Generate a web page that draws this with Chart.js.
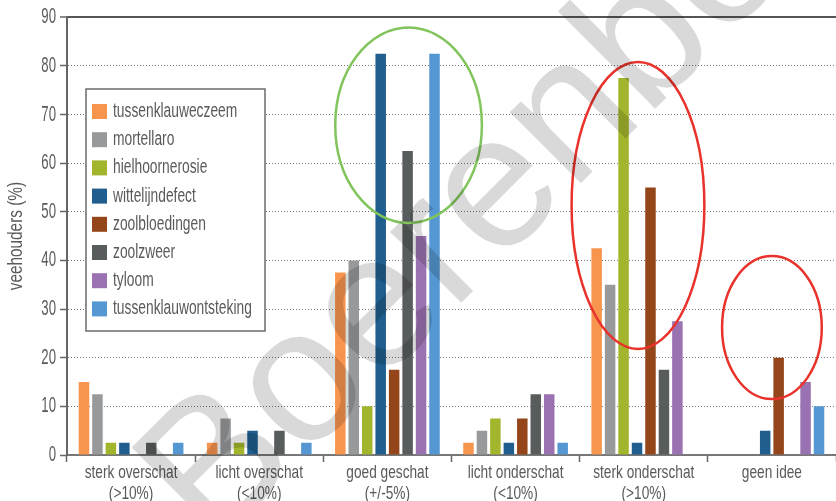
<!DOCTYPE html>
<html>
<head>
<meta charset="utf-8">
<script src="https://cdn.jsdelivr.net/npm/chart.js@4.4.1/dist/chart.umd.min.js"></script>
<style>
  html, body { margin: 0; padding: 0; background: #ffffff; }
  #wrap { width: 836px; height: 501px; position: relative; }
</style>
</head>
<body>
<div id="wrap"><canvas id="c" width="836" height="501"></canvas></div>
<script>
// ---- data ----
const categories = [
  ["sterk overschat", "(>10%)"],
  ["licht overschat", "(<10%)"],
  ["goed geschat", "(+/-5%)"],
  ["licht onderschat", "(<10%)"],
  ["sterk onderschat", "(>10%)"],
  "geen idee"
];
const seriesNames = ["tussenklauweczeem", "mortellaro", "hielhoornerosie", "wittelijndefect",
                     "zoolbloedingen", "zoolzweer", "tyloom", "tussenklauwontsteking"];
const tussenklauweczeem     = [15, 2.5, 37.5, 2.5, 42.5, 0];
const mortellaro            = [12.5, 7.5, 40, 5, 35, 0];
const hielhoornerosie       = [2.5, 2.5, 10, 7.5, 77.5, 0];
const wittelijndefect       = [2.5, 5, 82.5, 2.5, 2.5, 5];
const zoolbloedingen        = [0, 0, 17.5, 7.5, 55, 20];
const zoolzweer             = [2.5, 5, 62.5, 12.5, 17.5, 0];
const tyloom                = [0, 0, 45, 12.5, 27.5, 15];
const tussenklauwontsteking = [2.5, 2.5, 82.5, 2.5, 0, 10];
const yTicks = [0, 10, 20, 30, 40, 50, 60, 70, 80, 90];
const yTitle = "veehouders (%)";
const watermarkText = "Boerenbond";
// highlight ellipses (x in category index units, y in value units)
const ellipseCenterX = [2.165, 3.955, 5.0];
const ellipseCenterY = [67.8, 51.3, 26.2];
const ellipseRadiusX = [0.572, 0.518, 0.389];
const ellipseRadiusY = [20.1, 29.5, 14.7];
const ellipseColors  = ["#82c45c", "#e8322b", "#e8322b"];

const colors = ["#f7954f", "#97999a", "#a3b52c", "#1f5e8e", "#94461a", "#595c5d", "#9a72b2", "#5597d2"];
const seriesValues = [tussenklauweczeem, mortellaro, hielhoornerosie, wittelijndefect,
                      zoolbloedingen, zoolzweer, tyloom, tussenklauwontsteking];

const FONT = "'Liberation Sans', Arial, sans-serif";
const TXT = "#5a5a5a";

// condensed text rendering (the original uses a condensed typeface)
const canvas = document.getElementById('c');
const g = canvas.getContext('2d');
const proto = CanvasRenderingContext2D.prototype;
const condenseBySize = { 22: 0.6, 21: 0.73, 20: 0.69, 19: 0.72 };
function sxFor(c) {
  if (c._plain) return 1;
  const m = /(\d+(?:\.\d+)?)px/.exec(c.font);
  const s = m ? Math.round(parseFloat(m[1])) : 0;
  return condenseBySize[s] || 0.72;
}
g.fillText = function (t, x, y) {
  const sx = sxFor(this);
  if (sx === 1) return proto.fillText.call(this, t, x, y);
  this.save();
  this.translate(x, y);
  this.scale(sx, 1);
  proto.fillText.call(this, t, 0, 0);
  this.restore();
};
g.measureText = function (t) {
  const m = proto.measureText.call(this, t);
  const sx = sxFor(this);
  if (sx === 1) return m;
  return {
    width: m.width * sx,
    actualBoundingBoxAscent: m.actualBoundingBoxAscent,
    actualBoundingBoxDescent: m.actualBoundingBoxDescent,
    actualBoundingBoxLeft: m.actualBoundingBoxLeft * sx,
    actualBoundingBoxRight: m.actualBoundingBoxRight * sx
  };
};

const overlayPlugin = {
  id: 'overlay',
  afterDraw(chart) {
    const ctx = chart.ctx;
    const xs = chart.scales.x, ys = chart.scales.y;
    // legend
    ctx.save();
    const bx = 86, by = 89, bw = 179, bh = 242;
    ctx.fillStyle = '#ffffff';
    ctx.fillRect(bx, by, bw, bh);
    ctx.strokeStyle = '#6b6b6b';
    ctx.lineWidth = 1.5;
    ctx.strokeRect(bx, by, bw, bh);
    ctx.font = "20px " + FONT;
    ctx.textBaseline = 'middle';
    ctx.textAlign = 'left';
    chart.data.datasets.forEach((ds, i) => {
      const y = 104 + i * 28.2;
      ctx.fillStyle = ds.backgroundColor;
      ctx.fillRect(92, y, 15, 15);
      ctx.fillStyle = TXT;
      ctx.fillText(ds.label, 113, y + 7.5);
    });
    ctx.restore();

    // ellipses
    const gw = (xs.right - xs.left) / categories.length;
    ctx.save();
    ctx.lineWidth = 2.5;
    for (let i = 0; i < ellipseCenterX.length; i++) {
      const cx = xs.left + (ellipseCenterX[i] + 0.5) * gw;
      const cy = ys.getPixelForValue(ellipseCenterY[i]);
      const rx = ellipseRadiusX[i] * gw;
      const ry = Math.abs(ys.getPixelForValue(0) - ys.getPixelForValue(ellipseRadiusY[i]));
      ctx.strokeStyle = ellipseColors[i];
      ctx.beginPath();
      ctx.ellipse(cx, cy, rx, ry, 0, 0, Math.PI * 2);
      ctx.stroke();
    }
    ctx.restore();

    // watermark
    ctx.save();
    ctx._plain = true;
    ctx.translate(213, 551);
    ctx.rotate(-Math.PI / 4);
    ctx.font = "190px 'Liberation Sans', sans-serif";
    ctx.fillStyle = 'rgba(0,0,0,0.15)';
    ctx.textBaseline = 'alphabetic';
    ctx.textAlign = 'left';
    ctx.fillText(watermarkText, 0, 0);
    ctx._plain = false;
    ctx.restore();
  }
};

new Chart(canvas, {
  type: 'bar',
  data: {
    labels: categories,
    datasets: seriesNames.map((n, i) => ({
      label: n,
      data: seriesValues[i],
      backgroundColor: colors[i],
      borderWidth: 0,
      categoryPercentage: 0.84,
      barPercentage: 0.78
    }))
  },
  options: {
    responsive: false,
    animation: false,
    devicePixelRatio: 1,
    layout: { padding: { top: 17, right: -2, left: 0, bottom: 0 } },
    plugins: { legend: { display: false }, tooltip: { enabled: false } },
    scales: {
      x: {
        type: 'category',
        offset: true,
        grid: { offset: true, drawOnChartArea: false, drawTicks: true, tickLength: 7,
                tickColor: '#666', tickWidth: 1.5, color: '#666' },
        border: { color: '#777', width: 2 },
        ticks: { font: { family: FONT, size: 19, lineHeight: 1.1 }, color: TXT,
                 autoSkip: false, maxRotation: 0, minRotation: 0, padding: 0 },
        afterFit(s) { s.height = 46; }
      },
      y: {
        min: 0, max: 90,
        afterBuildTicks(s) { s.ticks = yTicks.map(v => ({ value: v })); },
        ticks: { font: { family: FONT, size: 22 }, color: TXT, padding: 4 },
        title: { display: true, text: yTitle, font: { family: FONT, size: 21 }, color: TXT,
                 padding: { top: 4, bottom: 0 } },
        grid: {
          color: c => (c.tick && c.tick.value === 0) ? 'rgba(0,0,0,0)' :
                      (c.tick && c.tick.value === 90) ? '#555' : '#777',
          lineWidth: c => (c.tick && c.tick.value === 90) ? 2 : 1,
          tickColor: '#666', tickLength: 7, tickWidth: 1.5, tickBorderDash: []
        },
        border: { color: '#666', width: 2,
                  dash: c => (c.tick && c.tick.value !== 90) ? [1, 2] : [] },
        afterFit(s) { s.width = 67; }
      }
    }
  },
  plugins: [overlayPlugin]
});
</script>
</body>
</html>
